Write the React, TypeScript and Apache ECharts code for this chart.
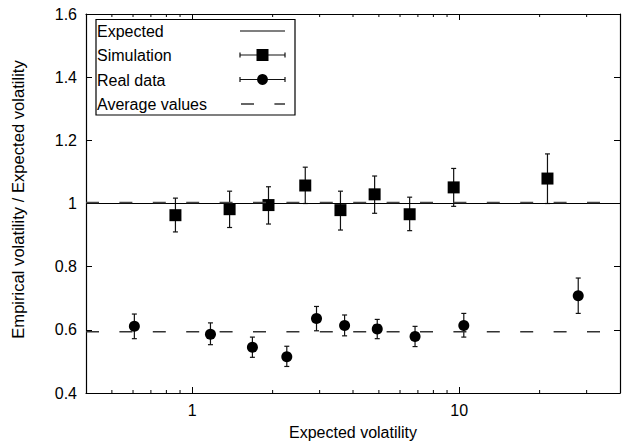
import React, { useEffect, useRef } from "react";
import * as echarts from "echarts";

// ---- data ----
const simX = [0.865, 1.38, 1.93, 2.65, 3.59, 4.82, 6.52, 9.53, 21.4];
const simY = [0.963, 0.982, 0.995, 1.057, 0.979, 1.029, 0.966, 1.051, 1.079];
const simHigh = [1.017, 1.039, 1.053, 1.115, 1.039, 1.087, 1.02, 1.111, 1.157];
const simLow = [0.91, 0.924, 0.935, 1.0, 0.916, 0.969, 0.914, 0.991, 1.0];

const realX = [0.607, 1.17, 1.68, 2.26, 2.92, 3.72, 4.93, 6.83, 10.4, 27.9];
const realY = [0.611, 0.586, 0.545, 0.515, 0.636, 0.614, 0.603, 0.579, 0.614, 0.708];
const realHigh = [0.65, 0.622, 0.577, 0.548, 0.674, 0.647, 0.633, 0.611, 0.652, 0.764];
const realLow = [0.572, 0.553, 0.513, 0.484, 0.597, 0.581, 0.572, 0.547, 0.577, 0.652];

const expectedValue = 1.0;
const simAverage = 1.003;
const realAverage = 0.594;

const xMin = 0.4;
const xMax = 40;
const yMin = 0.4;
const yMax = 1.6;
const yInterval = 0.2;
const majorXTicks = [1, 10];
const minorXTicks = [0.5, 0.6, 0.7, 0.8, 0.9, 2, 3, 4, 5, 6, 7, 8, 9, 20, 30];

const legendLabels = ["Expected", "Simulation", "Real data", "Average values"];

const FONT = "'Liberation Sans', Arial, Helvetica, sans-serif";
const FS = 16;

export default function App() {
  const ref = useRef<HTMLDivElement>(null);

  useEffect(() => {
    if (!ref.current) return;
    const chart = echarts.init(ref.current, undefined, { renderer: "svg" });

    const errorItem = (params: any, api: any) => {
      const x = api.value(0);
      const lo = api.coord([x, api.value(1)]);
      const hi = api.coord([x, api.value(2)]);
      const cw = 2.5;
      const st = { stroke: "#111", lineWidth: 1.2 };
      return {
        type: "group",
        children: [
          { type: "line", shape: { x1: lo[0], y1: lo[1], x2: hi[0], y2: hi[1] }, style: st },
          { type: "line", shape: { x1: lo[0] - cw, y1: lo[1], x2: lo[0] + cw, y2: lo[1] }, style: st },
          { type: "line", shape: { x1: hi[0] - cw, y1: hi[1], x2: hi[0] + cw, y2: hi[1] }, style: st },
        ],
      };
    };

    const minorTickItem = (params: any, api: any) => {
      const v = api.value(0);
      const b = api.coord([v, yMin]);
      const t = api.coord([v, yMax]);
      const st = { stroke: "#000", lineWidth: 1 };
      return {
        type: "group",
        children: [
          { type: "line", shape: { x1: b[0], y1: b[1], x2: b[0], y2: b[1] - 3 }, style: st },
          { type: "line", shape: { x1: t[0], y1: t[1], x2: t[0], y2: t[1] + 3 }, style: st },
        ],
      };
    };

    const isMajor = (v: number) => majorXTicks.some((m) => Math.abs(v - m) < 1e-6 * m);

    const axisCommon = {
      axisLine: { show: true, lineStyle: { color: "#000", width: 1.2 } },
      axisTick: { show: true, inside: true, length: 6, lineStyle: { color: "#000", width: 1 } },
      splitLine: { show: false },
    };

    // legend geometry
    const lgX = 96, lgY = 19.5, lgW = 199, lgH = 95.5;
    const rowY = [31, 55.5, 80, 104.5];
    const sx1 = 240, sx2 = 285, sc = 262.5;

    const sampleErr = (y: number) => [
      { type: "line", shape: { x1: sx1, y1: y, x2: sx2, y2: y }, style: { stroke: "#111", lineWidth: 1.2 } },
      { type: "line", shape: { x1: sx1, y1: y - 2.5, x2: sx1, y2: y + 2.5 }, style: { stroke: "#111", lineWidth: 1.2 } },
      { type: "line", shape: { x1: sx2, y1: y - 2.5, x2: sx2, y2: y + 2.5 }, style: { stroke: "#111", lineWidth: 1.2 } },
    ];

    const legendChildren: any[] = [
      { type: "rect", shape: { x: lgX, y: lgY, width: lgW, height: lgH }, style: { fill: "#fff", stroke: "#000", lineWidth: 1.2 } },
      ...legendLabels.map((t, i) => ({
        type: "text",
        x: 97,
        y: rowY[i],
        style: { text: t, fill: "#000", font: `${FS}px ${FONT}`, textVerticalAlign: "middle", verticalAlign: "middle" },
      })),
      { type: "line", shape: { x1: sx1, y1: 31, x2: sx2, y2: 31 }, style: { stroke: "#000", lineWidth: 1.2 } },
      ...sampleErr(55),
      { type: "rect", shape: { x: sc - 6, y: 55 - 6, width: 12, height: 12 }, style: { fill: "#000" } },
      ...sampleErr(79.5),
      { type: "circle", shape: { cx: sc, cy: 79.5, r: 5.4 }, style: { fill: "#000" } },
      { type: "line", shape: { x1: 241, y1: 104, x2: sx2, y2: 104 }, style: { stroke: "#333", lineWidth: 1.3, lineDash: [13, 20.4] } },
    ];

    chart.setOption({
      animation: false,
      backgroundColor: "#fff",
      textStyle: { fontFamily: FONT, fontSize: FS, color: "#000" },
      grid: { left: 86, right: 13, top: 14, bottom: 49, show: false },
      xAxis: [
        {
          type: "log",
          logBase: 10,
          min: xMin,
          max: xMax,
          position: "bottom",
          name: "Expected volatility",
          nameLocation: "middle",
          nameGap: 31,
          nameTextStyle: { fontFamily: FONT, fontSize: FS, color: "#000" },
          axisLabel: {
            show: true,
            margin: 9,
            fontFamily: FONT,
            fontSize: FS,
            color: "#000",
            showMinLabel: false,
            showMaxLabel: false,
            formatter: (v: number) => (isMajor(v) ? String(Math.round(v)) : ""),
          },
          ...axisCommon,
        },
        {
          type: "log",
          logBase: 10,
          min: xMin,
          max: xMax,
          position: "top",
          axisLabel: { show: false },
          ...axisCommon,
        },
      ],
      yAxis: [
        {
          type: "value",
          min: yMin,
          max: yMax,
          interval: yInterval,
          position: "left",
          name: "Empirical volatility / Expected volatility",
          nameLocation: "middle",
          nameGap: 59,
          nameTextStyle: { fontFamily: FONT, fontSize: 16.6, color: "#000", padding: [0, 0, 0, 8] },
          axisLabel: { margin: 9, fontFamily: FONT, fontSize: FS, color: "#000" },
          ...axisCommon,
        },
        {
          type: "value",
          min: yMin,
          max: yMax,
          interval: yInterval,
          position: "right",
          axisLabel: { show: false },
          ...axisCommon,
        },
      ],
      series: [
        {
          type: "custom",
          name: "minorTicks",
          renderItem: minorTickItem,
          data: minorXTicks.map((v) => [v, yMin]),
          encode: { x: 0, y: 1 },
          silent: true,
          clip: false,
        },
        {
          type: "line",
          name: "Expected",
          data: [[xMin, expectedValue], [xMax, expectedValue]],
          symbol: "none",
          lineStyle: { color: "#000", width: 1.2 },
        },
        {
          type: "line",
          name: "Average sim",
          data: [[xMin, simAverage], [xMax, simAverage]],
          symbol: "none",
          lineStyle: { color: "#444", width: 1.4, type: [13, 20.4] },
        },
        {
          type: "line",
          name: "Average real",
          data: [[xMin, realAverage], [xMax, realAverage]],
          symbol: "none",
          lineStyle: { color: "#333", width: 1.3, type: [13, 20.4] },
        },
        {
          type: "custom",
          name: "Simulation errors",
          renderItem: errorItem,
          data: simX.map((x, i) => [x, simLow[i], simHigh[i]]),
          encode: { x: 0, y: [1, 2] },
        },
        {
          type: "custom",
          name: "Real errors",
          renderItem: errorItem,
          data: realX.map((x, i) => [x, realLow[i], realHigh[i]]),
          encode: { x: 0, y: [1, 2] },
        },
        {
          type: "scatter",
          name: "Simulation",
          data: simX.map((x, i) => [x, simY[i]]),
          symbol: "rect",
          symbolSize: 12,
          itemStyle: { color: "#000", opacity: 1 },
        },
        {
          type: "scatter",
          name: "Real data",
          data: realX.map((x, i) => [x, realY[i]]),
          symbol: "circle",
          symbolSize: 11,
          itemStyle: { color: "#000", opacity: 1 },
        },
      ],
      graphic: [{ type: "group", z: 100, children: legendChildren }],
    });

    return () => chart.dispose();
  }, []);

  return (
    <div
      ref={ref}
      style={{ position: "fixed", left: 0, top: 0, width: 633, height: 445, background: "#fff" }}
    />
  );
}
